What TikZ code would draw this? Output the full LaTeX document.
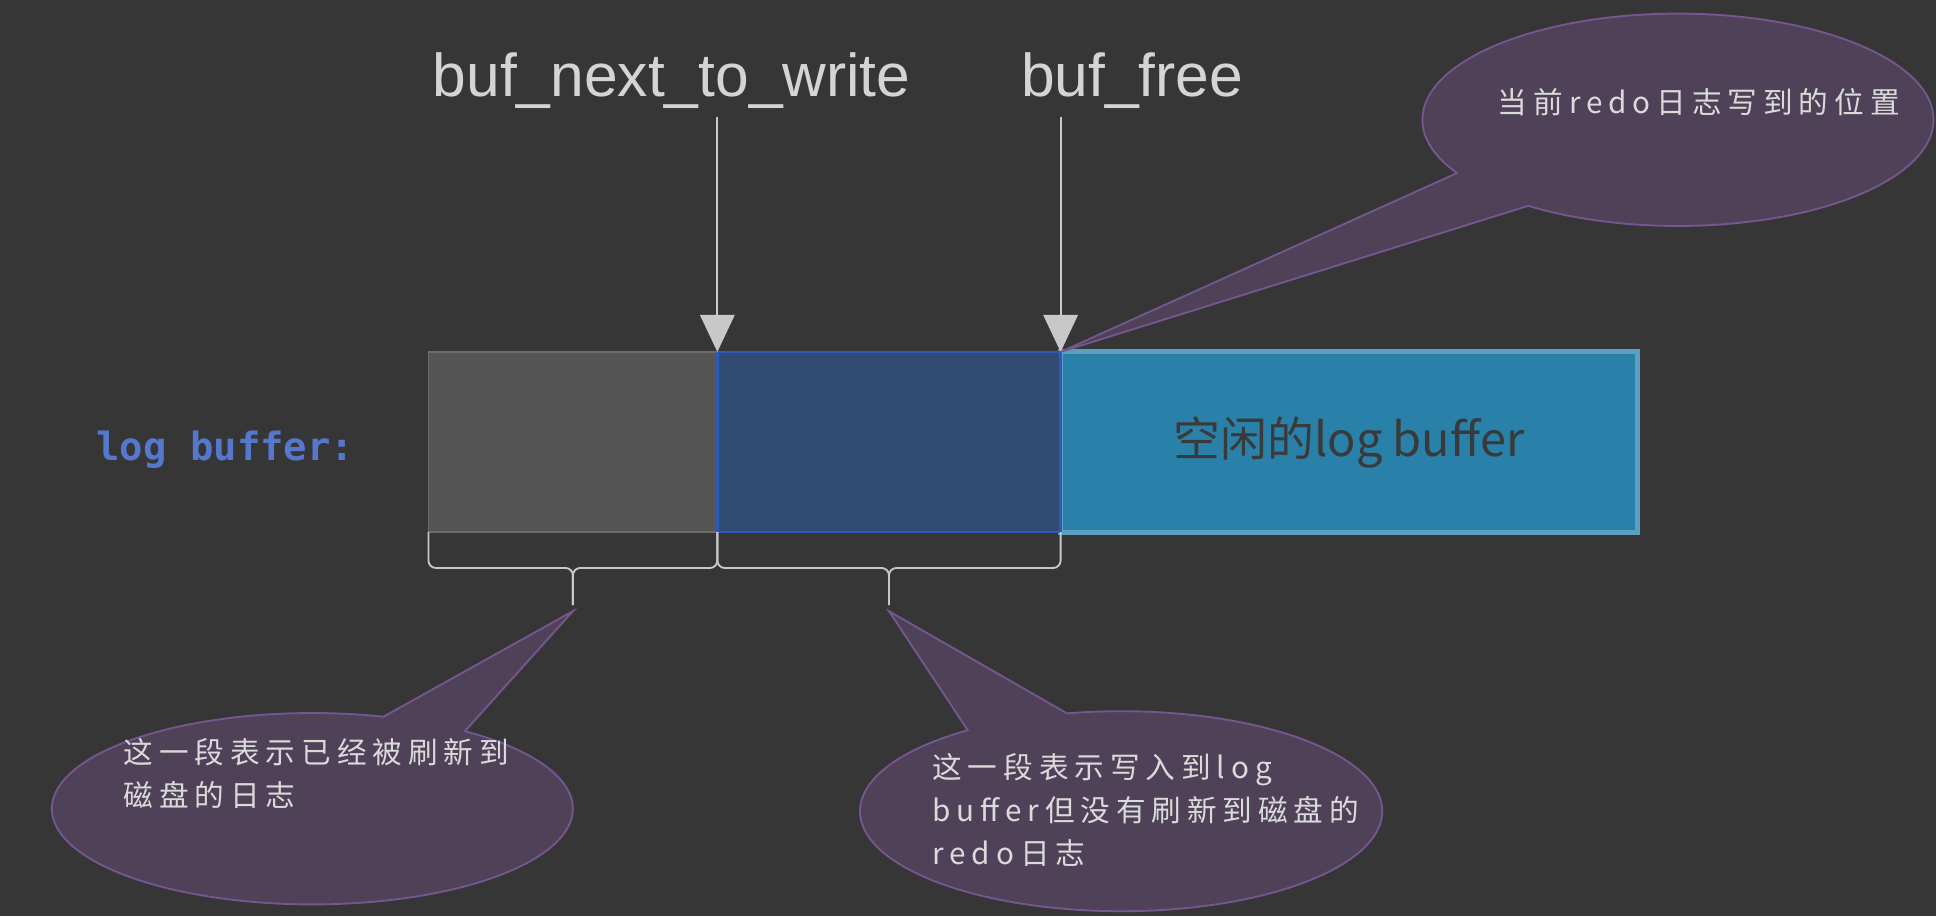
\documentclass[tikz,border=0pt]{standalone}
\usepackage{fontspec}
\setmainfont{Liberation Sans}
\newfontfamily\cjk{Noto Sans CJK SC}
\newfontfamily\notefont[LetterSpace=20]{Noto Sans CJK SC}
\newfontfamily\monofont{DejaVu Sans Mono}
\usepackage{tikz}
\usetikzlibrary{arrows.meta}
\usetikzlibrary{shapes, shapes.callouts, positioning, calc}

\definecolor{bg}{RGB}{54,54,54}
\definecolor{lbl}{RGB}{212,212,212}
\definecolor{ptrgray}{RGB}{200,200,200}
\definecolor{usedfill}{RGB}{85,85,85}
\definecolor{usedline}{RGB}{108,108,108}
\definecolor{bluefill}{RGB}{50,75,117}
\definecolor{blueline}{RGB}{45,90,185}
\definecolor{freefill}{RGB}{41,128,168}
\definecolor{freeline}{RGB}{90,160,195}
\definecolor{freetext}{RGB}{58,58,58}
\definecolor{lbblue}{RGB}{85,120,205}
\definecolor{notefill}{RGB}{79,66,88}
\definecolor{noteline}{RGB}{118,86,145}
\definecolor{notetext}{RGB}{218,218,218}

\begin{document}
\begin{tikzpicture}[x=1pt,y=-1pt,
  box node/.style={rectangle,inner sep=0pt,outer sep=0pt,minimum height=146pt,anchor=north west},
  ptr node/.style={inner sep=0pt,anchor=base,text=lbl,font=\fontsize{49}{55}\selectfont},
  note node/.style={ellipse callout,draw=noteline,fill=notefill,line width=1.5pt,callout pointer arc=24},
  note text/.style={anchor=north west,inner sep=0pt,align=left,text=notetext,font=\notefont\fontsize{24}{35}\selectfont},
  ptr/.style={-{Triangle[width=28pt,length=30pt]},draw=ptrgray,line width=1.5pt},
  brace line/.style={draw=ptrgray,line width=1.5pt,rounded corners=6pt}]
  \useasboundingbox (0,0) rectangle (1568,742);
  \fill[bg] (0,0) rectangle (1568,742);

  % buffer
  \node[font=\monofont\bfseries\fontsize{31.5}{36}\selectfont,text=lbblue,anchor=base west,inner sep=0pt] (lb) at (78,373) {log buffer:};
  \node[box node,fill=usedfill,draw=usedline,line width=1.5pt,minimum width=234pt] (1) at (347,285) {};
  \node[box node,fill=freefill,draw=freeline,line width=4pt,minimum width=467pt,
        text=freetext,font=\cjk\fontsize{38}{40}\selectfont] (3) at (859,285) {空闲的log buffer};
  \node[box node,fill=bluefill,draw=blueline,line width=2pt,minimum width=278pt,right=0pt of 1] (2) {};

  % pointers
  \node[ptr node] (p1) at (544,78) {buf\_next\_to\_write};
  \node[ptr node] (p2) at (917,78) {buf\_free};
  \draw[ptr] ($(p1.south -| 2.north west)+(0,7)$) -- (2.north west);
  \draw[ptr] ($(p2.south -| 2.north east)+(0,7)$) -- (2.north east);

  % braces
  \coordinate (t1) at ($(1.south)+(0,59)$);
  \coordinate (t2) at ($(2.south)+(0,59)$);
  \draw[brace line] (1.south west) |- ($(1.south)+(0,29)$) -- (t1);
  \draw[brace line] (1.south east) |- ($(1.south)+(0,29)$) -- (t1);
  \draw[brace line] (2.south west) |- ($(2.south)+(0,29)$) -- (t2);
  \draw[brace line] (2.south east) |- ($(2.south)+(0,29)$) -- (t2);

  % notes
  \coordinate (t1p) at ($(t1)+(0,5)$);
  \coordinate (t2p) at ($(t2)+(0,5)$);
  \node[note node,minimum width=414pt,minimum height=172pt,callout absolute pointer={(2.north east)}] (c3) at (1359,97) {};
  \node[note node,minimum width=422pt,minimum height=155pt,callout pointer arc=20,callout absolute pointer={(t1p)}] (c1) at (253,655) {};
  \node[note node,minimum width=423pt,minimum height=162pt,callout absolute pointer={(t2p)}] (c2) at (908,657) {};
  \node[note text] (n3) at (1213,71) {当前redo日志写到的位置};
  \node[note text] (n1) at (100,598) {这一段表示已经被刷新到\\磁盘的日志};
  \node[note text] (n2) at (755,610) {这一段表示写入到log\\buffer但没有刷新到磁盘的\\redo日志};
\end{tikzpicture}
\end{document}
